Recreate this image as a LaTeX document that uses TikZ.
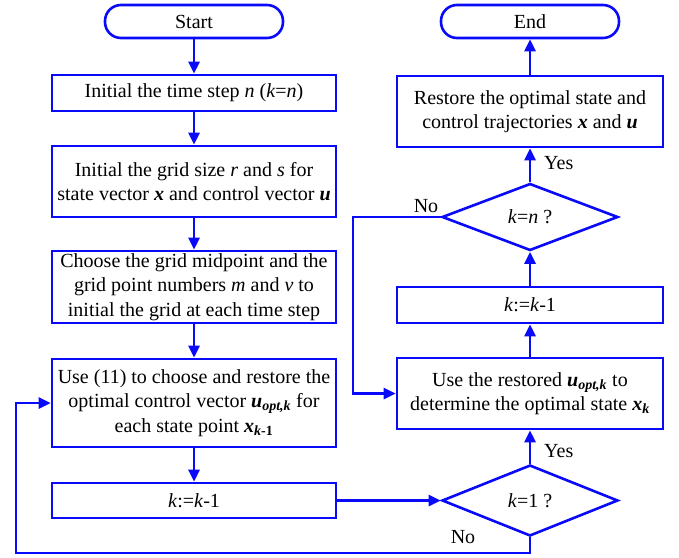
\documentclass[tikz,border=0pt]{standalone}
\usepackage{fontspec}
\setmainfont{Liberation Serif}
\usetikzlibrary{shapes.geometric,arrows.meta}
\definecolor{fb}{RGB}{10,10,250}
\newcommand{\bi}[1]{\textbf{\textit{#1}}}
\begin{document}
\begin{tikzpicture}[x=1pt,y=-1pt,
  box/.style={draw=fb, line width=2.6pt, fill=white, align=center, inner sep=0pt,
    font=\fontsize{20}{24.5}\selectfont, text=black},
  term/.style={box, rounded corners=16pt, minimum width=178pt, minimum height=33pt},
  lbox/.style={box, minimum width=284pt},
  rbox/.style={box, minimum width=266pt},
  dec/.style={box, diamond, aspect=2.6, minimum width=176pt},
  arr/.style={draw=fb, line width=2.6pt, -{Triangle[length=12pt,width=11pt]}},
  lbl/.style={font=\fontsize{20}{24}\selectfont, text=black, inner sep=0pt}]
\useasboundingbox (0,0) rectangle (679,557);
% left column
\node[term] (start) at (194,21.5) {Start};
\node[lbox, minimum height=36pt] (b1) at (194,93) {Initial the time step \textit{n} (\textit{k}=\textit{n})};
\node[lbox, minimum height=71pt] (b2) at (194,181.5) {Initial the grid size \textit{r} and \textit{s} for\\state vector \bi{x} and control vector \bi{u}};
\node[lbox, minimum height=72pt] (b3) at (194,287) {Choose the grid midpoint and the\\grid point numbers \textit{m} and \textit{v} to\\initial the grid at each time step};
\node[lbox, minimum height=88pt] (b4) at (194,403) {Use (11) to choose and restore the\\optimal control vector \bi{u}\textsubscript{\bi{opt,k}} for\\each state point \bi{x}\textsubscript{\bi{k}\textbf{-1}}};
\node[lbox, minimum height=35pt] (b5) at (194,500.5) {\textit{k}:=\textit{k}-1};
% right column
\node[term] (end) at (530,21.5) {End};
\node[rbox, minimum height=71pt] (rs) at (530,111.5) {Restore the optimal state and\\control trajectories \bi{x} and \bi{u}};
\node[dec, minimum height=67pt] (d1) at (530,217) {\textit{k}=\textit{n} ?};
\node[rbox, minimum height=36pt] (km) at (530,305) {\textit{k}:=\textit{k}-1};
\node[rbox, minimum height=71pt] (ur) at (530,393.5) {Use the restored \bi{u}\textsubscript{\bi{opt,k}} to\\determine the optimal state \bi{x}\textsubscript{\bi{k}}};
\node[dec, minimum height=71pt] (d2) at (530,500.5) {\textit{k}=1 ?};
% connectors
\draw[arr] (start) -- (b1);
\draw[arr] (b1) -- (b2);
\draw[arr] (b2) -- (b3);
\draw[arr] (b3) -- (b4);
\draw[arr] (b4) -- (b5);
\draw[arr] (b5.east) -- (d2.west);
\coordinate (lb) at (16,553);
\draw[arr] (d2.south) |- (lb) |- (b4.west);
\draw[arr] (d2.north) -- (ur.south);
\draw[arr] (ur.north) -- (km.south);
\draw[arr] (km.north) -- (d1.south);
\draw[arr] (d1.north) -- (rs.south);
\draw[arr] (rs.north) -- (end.south);
\coordinate (nl) at (353,217);
\draw[arr] (d1.west) -- (nl) |- (ur.west);
% labels
\node[lbl, anchor=west] (y1) at (544,163) {Yes};
\node[lbl, anchor=west] (y2) at (544,451) {Yes};
\node[lbl] (n1) at (426,206) {No};
\node[lbl] (n2) at (463,537) {No};
\end{tikzpicture}
\end{document}
